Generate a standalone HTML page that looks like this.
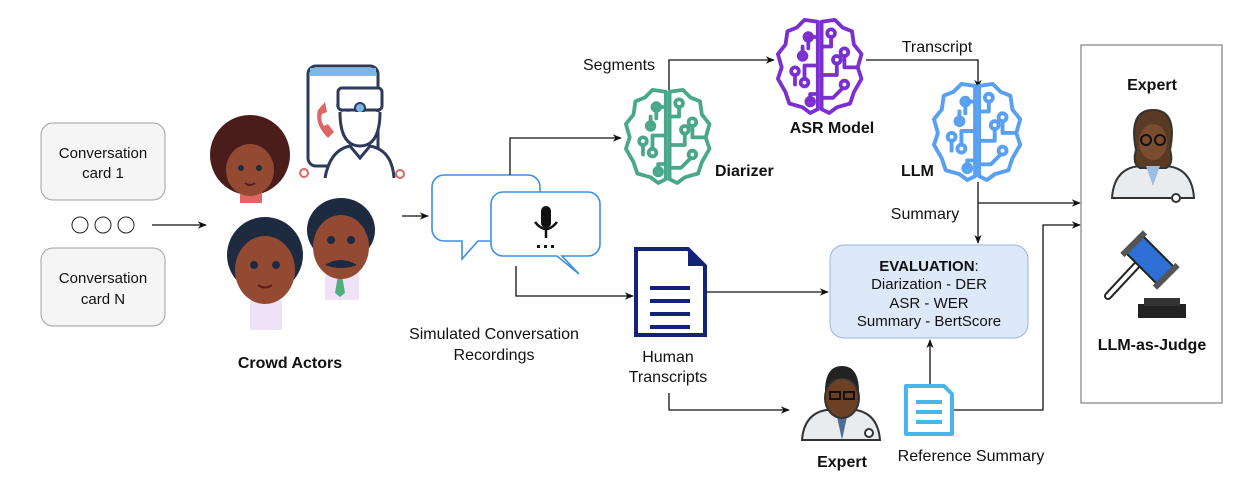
<!DOCTYPE html>
<html><head><meta charset="utf-8"><style>
html,body{margin:0;padding:0;background:#fff}
svg{display:block}
text{font-family:"Liberation Sans",Arial,sans-serif;fill:#111}
.b{font-weight:bold}
</style></head><body>
<svg width="1242" height="482" viewBox="0 0 1242 482" xmlns="http://www.w3.org/2000/svg">
<defs>
<marker id="ar" viewBox="0 0 10 10" refX="9" refY="5" markerWidth="7" markerHeight="7" orient="auto"><path d="M0,1 L10,5 L0,9 L3,5z" fill="#111"/></marker>
<g id="brain" fill="none" stroke-width="4" stroke-linejoin="round" stroke-linecap="round">
<path d="M44,4 L30,2 L22,10 L12,14 L10,28 L2,38 L6,52 L2,64 L10,78 L14,90 L28,94 L36,100 L44,96 Z"/>
<path d="M48,4 L62,2 L70,10 L80,14 L82,28 L90,38 L86,52 L90,64 L82,78 L78,90 L64,94 L56,100 L48,96 Z"/>
<path d="M44,20 L34,20 L34,32 M28,40 L28,30 M44,50 L30,50 L30,64 M44,80 L36,80 L36,88 M20,60 L20,70"/>
<circle cx="28" cy="40" r="4"/><circle cx="30" cy="68" r="4"/><circle cx="20" cy="56" r="4"/><circle cx="36" cy="88" r="4"/><circle cx="34" cy="20" r="4"/>
<path d="M48,30 L58,30 L58,20 M48,60 L64,60 L64,48 M48,84 L60,84 L70,74 M72,40 L72,52 L86,52"/>
<circle cx="58" cy="16" r="4"/><circle cx="64" cy="44" r="4"/><circle cx="72" cy="70" r="4"/><circle cx="72" cy="36" r="4"/>
</g>
</defs>

<rect x="41" y="123" width="124" height="77" rx="12" fill="#f5f5f5" stroke="#a0a0a0"/>
<text x="103" y="158" font-size="15" text-anchor="middle" fill="#333">Conversation</text>
<text x="103" y="178" font-size="15" text-anchor="middle" fill="#333">card 1</text>
<rect x="41" y="248" width="124" height="78" rx="12" fill="#f5f5f5" stroke="#a0a0a0"/>
<text x="103" y="283" font-size="15" text-anchor="middle" fill="#333">Conversation</text>
<text x="103" y="304" font-size="15" text-anchor="middle" fill="#333">card N</text>
<g fill="#fff" stroke="#222"><circle cx="80" cy="225" r="8"/><circle cx="103" cy="225" r="8"/><circle cx="126" cy="225" r="8"/></g>
<line x1="152" y1="225" x2="206" y2="225" stroke="#111" stroke-width="1.3" marker-end="url(#ar)"/>

<rect x="308" y="66" width="70" height="100" rx="8" fill="#fff" stroke="#2e3a59" stroke-width="3"/>
<rect x="310" y="68" width="66" height="8" fill="#7ab8e8"/>
<path d="M318,110 q-4,14 10,28 l6,-6 -6,-8 -4,2 q-4,-6 -2,-12 l5,-2 -2,-10z" fill="#e06666"/>
<path d="M336,105 a8,8 0 0 1 6,8 M338,98 a14,14 0 0 1 10,14" stroke="#7ab8e8" stroke-width="3" fill="none"/>
<rect x="338" y="88" width="44" height="22" rx="4" fill="#fff" stroke="#2e3a59" stroke-width="3"/>
<circle cx="360" cy="108" r="5" fill="#7ab8e8" stroke="#2e3a59" stroke-width="2"/>
<path d="M340,112 q0,34 20,34 q20,0 20,-34" fill="#fff" stroke="#2e3a59" stroke-width="3"/>
<path d="M325,178 q5,-28 25,-32 l10,12 10,-12 q22,4 24,32" fill="#fff" stroke="#2e3a59" stroke-width="3"/>
<circle cx="304" cy="173" r="4" fill="none" stroke="#e06666" stroke-width="2"/>
<circle cx="400" cy="174" r="4" fill="none" stroke="#e06666" stroke-width="2"/>

<circle cx="250" cy="155" r="40" fill="#4a1c1a"/>
<rect x="240" y="185" width="22" height="18" fill="#e06666"/>
<ellipse cx="250" cy="170" rx="24" ry="26" fill="#944a32"/>
<circle cx="241" cy="168" r="3" fill="#1c2a44"/><circle cx="259" cy="168" r="3" fill="#1c2a44"/>
<path d="M245,183 q5,4 10,0" stroke="#5a1f1a" stroke-width="2" fill="none"/>
<circle cx="265" cy="255" r="38" fill="#1d2a40"/>
<rect x="250" y="300" width="32" height="30" fill="#efe2f7"/>
<ellipse cx="265" cy="270" rx="30" ry="34" fill="#944a32"/>
<circle cx="254" cy="265" r="4" fill="#1c2a44"/><circle cx="276" cy="265" r="4" fill="#1c2a44"/>
<path d="M258,285 q7,5 14,0" stroke="#5a1f1a" stroke-width="2" fill="none"/>
<ellipse cx="341" cy="230" rx="34" ry="32" fill="#1d2a40"/>
<rect x="325" y="270" width="34" height="30" fill="#efe2f7"/>
<path d="M338,275 l4,0 3,18 -5,4 -5,-4z" fill="#4caf7d"/>
<ellipse cx="341" cy="247" rx="28" ry="32" fill="#944a32"/>
<circle cx="331" cy="240" r="4" fill="#1c2a44"/><circle cx="351" cy="240" r="4" fill="#1c2a44"/>
<path d="M325,265 q16,-10 32,0 q-16,6 -32,0z" fill="#1d2a40"/>
<text x="290" y="368" font-size="16" class="b" text-anchor="middle">Crowd Actors</text>

<line x1="402" y1="216" x2="428" y2="216" stroke="#111" stroke-width="1.3" marker-end="url(#ar)"/>

<path d="M444,175 h84 a12,12 0 0 1 12,12 v42 a12,12 0 0 1 -12,12 h-50 l-16,18 v-18 h-18 a12,12 0 0 1 -12,-12 v-42 a12,12 0 0 1 12,-12z" fill="#fff" stroke="#3d8fe6" stroke-width="1.6"/>
<path d="M503,192 h85 a12,12 0 0 1 12,12 v40 a12,12 0 0 1 -12,12 h-26 l17,18 -22,-18 h-54 a12,12 0 0 1 -12,-12 v-40 a12,12 0 0 1 12,-12z" fill="#fff" stroke="#3d8fe6" stroke-width="1.6"/>
<rect x="541" y="206" width="10" height="22" rx="5" fill="#111"/>
<path d="M535,222 q11,14 22,0" stroke="#111" stroke-width="2.5" fill="none"/>
<line x1="546" y1="230" x2="546" y2="238" stroke="#111" stroke-width="2.5"/>
<g fill="#111"><rect x="537" y="245" width="3" height="3"/><rect x="544" y="245" width="3" height="3"/><rect x="551" y="245" width="3" height="3"/></g>
<text x="494" y="339" font-size="16" text-anchor="middle">Simulated Conversation</text>
<text x="494" y="360" font-size="16" text-anchor="middle">Recordings</text>

<g stroke="#111" stroke-width="1.3" fill="none">
<polyline points="510,175 510,138 621,138" marker-end="url(#ar)"/>
<polyline points="669,90 669,60 774,60" marker-end="url(#ar)"/>
<polyline points="866,60 978,60 978,88" marker-end="url(#ar)"/>
<polyline points="978,182 978,243" marker-end="url(#ar)"/>
<polyline points="978,203 1080,203" marker-end="url(#ar)"/>
<polyline points="516,266 516,296 633,296" marker-end="url(#ar)"/>
<polyline points="706,292 828,292" marker-end="url(#ar)"/>
<polyline points="669,393 669,410 789,410" marker-end="url(#ar)"/>
<polyline points="930,384 930,340" marker-end="url(#ar)"/>
<polyline points="954,410 1043,410 1043,225 1080,225" marker-end="url(#ar)"/>
</g>

<text x="583" y="70" font-size="16">Segments</text>
<text x="937" y="52" font-size="16" text-anchor="middle">Transcript</text>
<text x="925" y="219" font-size="16" text-anchor="middle">Summary</text>

<use href="#brain" transform="translate(624,88) scale(0.95)" stroke="#4aa88a"/>
<use href="#brain" transform="translate(776,18) scale(0.95)" stroke="#7b2fd0"/>
<use href="#brain" transform="translate(932,82) scale(0.98)" stroke="#5aa0f2"/>
<text x="715" y="176" font-size="16" class="b">Diarizer</text>
<text x="832" y="133" font-size="16" class="b" text-anchor="middle">ASR Model</text>
<text x="901" y="176" font-size="16" class="b">LLM</text>

<rect x="830" y="245" width="198" height="93" rx="14" fill="#dde8f8" stroke="#9ab4de"/>
<text x="929" y="271" font-size="15" text-anchor="middle"><tspan class="b">EVALUATION</tspan>:</text>
<text x="929" y="289" font-size="15" text-anchor="middle">Diarization - DER</text>
<text x="929" y="308" font-size="15" text-anchor="middle">ASR - WER</text>
<text x="929" y="326" font-size="15" text-anchor="middle">Summary - BertScore</text>

<path d="M636,249 h52 l17,17 v69 h-69z" fill="#fff" stroke="#14237a" stroke-width="4"/>
<path d="M688,249 v17 h17z" fill="#14237a"/>
<g stroke="#14237a" stroke-width="4"><line x1="650" y1="288" x2="690" y2="288"/><line x1="650" y1="301" x2="690" y2="301"/><line x1="650" y1="314" x2="690" y2="314"/><line x1="650" y1="327" x2="690" y2="327"/></g>
<text x="668" y="362" font-size="16" text-anchor="middle">Human</text>
<text x="668" y="382" font-size="16" text-anchor="middle">Transcripts</text>

<path d="M802,440 q2,-26 24,-30 h30 q22,4 24,30z" fill="#e8ecee" stroke="#333" stroke-width="2"/>
<path d="M836,412 l6,28 6,-28z" fill="#4f6f8f"/>
<ellipse cx="842" cy="398" rx="17" ry="20" fill="#6b4024" stroke="#333" stroke-width="2"/>
<path d="M825,392 q0,-26 17,-26 q17,0 17,26 q-4,-14 -17,-14 q-13,0 -17,14z" fill="#222"/>
<rect x="830" y="392" width="10" height="7" fill="none" stroke="#111" stroke-width="2"/><rect x="844" y="392" width="10" height="7" fill="none" stroke="#111" stroke-width="2"/>
<circle cx="869" cy="433" r="4" fill="#fff" stroke="#333" stroke-width="2"/>
<text x="842" y="467" font-size="16" class="b" text-anchor="middle">Expert</text>

<path d="M906,386 h38 l8,8 v40 h-46z" fill="#fff" stroke="#49b6ea" stroke-width="4" stroke-linejoin="round"/>
<g stroke="#49b6ea" stroke-width="4"><line x1="916" y1="402" x2="942" y2="402"/><line x1="916" y1="412" x2="942" y2="412"/><line x1="916" y1="422" x2="942" y2="422"/></g>
<text x="971" y="461" font-size="16" text-anchor="middle">Reference Summary</text>

<rect x="1081" y="45" width="141" height="358" fill="#fff" stroke="#8a8a8a" stroke-width="1.3"/>
<text x="1152" y="90" font-size="16" class="b" text-anchor="middle">Expert</text>
<path d="M1112,198 q2,-30 28,-32 h26 q26,2 28,32z" fill="#e8ecee" stroke="#333" stroke-width="2"/>
<path d="M1136,150 q-8,-40 17,-40 q25,0 17,40 q4,14 -4,18 h-26 q-8,-4 -4,-18z" fill="#5a3a22" stroke="#333" stroke-width="2"/>
<ellipse cx="1153" cy="142" rx="14" ry="18" fill="#7a4c30"/>
<path d="M1146,166 l7,20 7,-20z" fill="#9bbde0"/>
<circle cx="1146" cy="140" r="5" fill="none" stroke="#111" stroke-width="2"/><circle cx="1160" cy="140" r="5" fill="none" stroke="#111" stroke-width="2"/>
<circle cx="1176" cy="198" r="4" fill="#fff" stroke="#333" stroke-width="2"/>
<line x1="1108" y1="296" x2="1136" y2="266" stroke="#222" stroke-width="8" stroke-linecap="round"/>
<line x1="1108" y1="296" x2="1136" y2="266" stroke="#fff" stroke-width="4" stroke-linecap="round"/>
<g transform="rotate(45 1150 260)"><rect x="1128" y="248" width="44" height="24" fill="#2e6fd6" stroke="#222" stroke-width="2"/><rect x="1124" y="244" width="6" height="32" fill="#555"/><rect x="1170" y="244" width="6" height="32" fill="#555"/></g>
<rect x="1138" y="304" width="48" height="14" fill="#222"/><rect x="1144" y="298" width="36" height="8" fill="#333"/>
<text x="1152" y="350" font-size="16" class="b" text-anchor="middle">LLM-as-Judge</text>
</svg>
</body></html>
